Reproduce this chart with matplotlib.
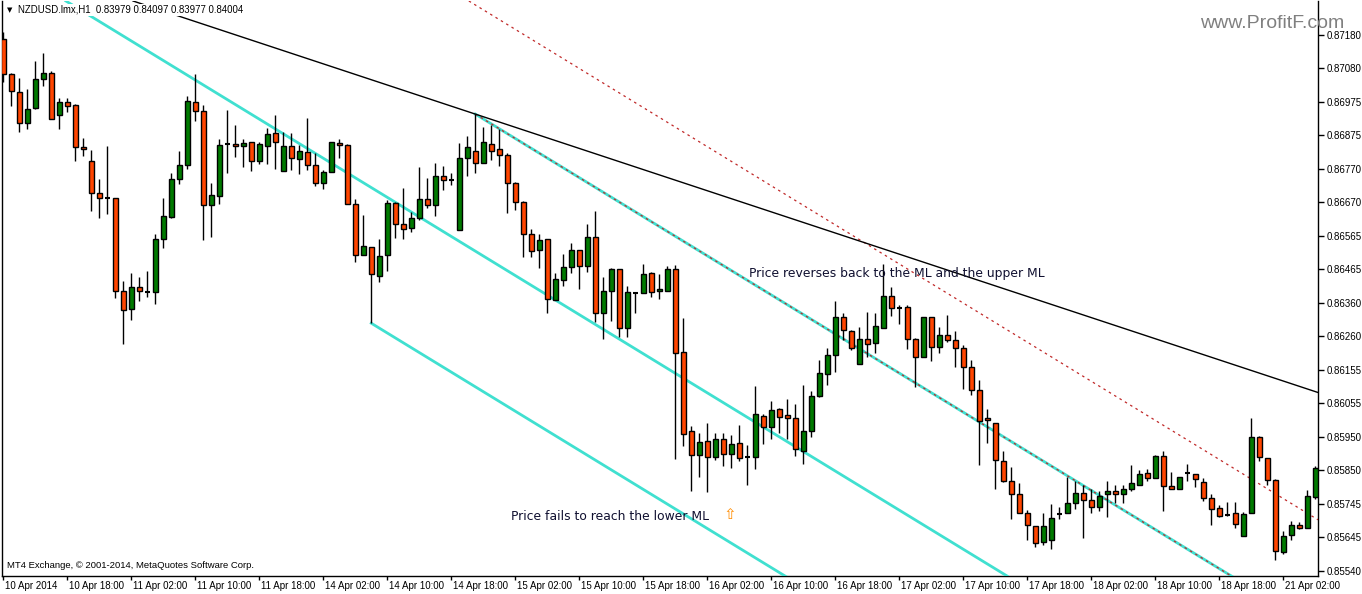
import matplotlib
matplotlib.use("Agg")
import matplotlib.pyplot as plt
import matplotlib.transforms as mtransforms
import numpy as np

# Datos OHLC (NZDUSD H1)
opens = [0.87168, 0.87060, 0.87005, 0.86910, 0.86956, 0.87044, 0.87063, 0.86935, 0.86974, 0.86965,
         0.86836, 0.86794, 0.86696, 0.86682, 0.86680, 0.86397, 0.86341, 0.86408, 0.86395, 0.86393,
         0.86555, 0.86623, 0.86738, 0.86781, 0.86974, 0.86947, 0.86659, 0.86686, 0.86846, 0.86846,
         0.86839, 0.86852, 0.86794, 0.86839, 0.86879, 0.86763, 0.86839, 0.86800, 0.86822, 0.86781,
         0.86726, 0.86760, 0.86850, 0.86842, 0.86662, 0.86507, 0.86530, 0.86443, 0.86507, 0.86665,
         0.86603, 0.86589, 0.86621, 0.86677, 0.86659, 0.86748, 0.86736, 0.86582, 0.86803, 0.86824,
         0.86787, 0.86846, 0.86830, 0.86812, 0.86726, 0.86668, 0.86570, 0.86521, 0.86555, 0.86369,
         0.86429, 0.86469, 0.86521, 0.86474, 0.86561, 0.86328, 0.86398, 0.86463, 0.86283, 0.86391,
         0.86390, 0.86451, 0.86396, 0.86398, 0.86463, 0.86211, 0.85969, 0.85894, 0.85937, 0.85888,
         0.85945, 0.85898, 0.85931, 0.85890, 0.85890, 0.86014, 0.85981, 0.86036, 0.86017, 0.86007,
         0.85908, 0.85968, 0.86075, 0.86142, 0.86200, 0.86318, 0.86274, 0.86172, 0.86249, 0.86237,
         0.86284, 0.86380, 0.86345, 0.86347, 0.86250, 0.86196, 0.86316, 0.86224, 0.86261, 0.86247,
         0.86221, 0.86163, 0.86093, 0.86007, 0.85992, 0.85876, 0.85814, 0.85775, 0.85716, 0.85677,
         0.85628, 0.85634, 0.85714, 0.85716, 0.85747, 0.85779, 0.85757, 0.85737, 0.85775, 0.85784,
         0.85775, 0.85790, 0.85802, 0.85839, 0.85824, 0.85891, 0.85799, 0.85792, 0.85841, 0.85836,
         0.85811, 0.85762, 0.85732, 0.85711, 0.85716, 0.85647, 0.85716, 0.85949, 0.85885, 0.85818,
         0.85598, 0.85650, 0.85680, 0.85671, 0.85767]
highs = [0.87190, 0.87063, 0.87048, 0.87015, 0.87100, 0.87124, 0.87070, 0.86986, 0.86986, 0.86969,
         0.86864, 0.86828, 0.86739, 0.86840, 0.86680, 0.86427, 0.86451, 0.86439, 0.86458, 0.86570,
         0.86681, 0.86759, 0.86825, 0.86993, 0.87061, 0.86966, 0.86727, 0.86862, 0.86950, 0.86905,
         0.86862, 0.86852, 0.86854, 0.86896, 0.86935, 0.86884, 0.86879, 0.86843, 0.86925, 0.86820,
         0.86766, 0.86852, 0.86862, 0.86846, 0.86678, 0.86629, 0.86530, 0.86556, 0.86675, 0.86670,
         0.86711, 0.86639, 0.86775, 0.86742, 0.86787, 0.86779, 0.86759, 0.86849, 0.86871, 0.86938,
         0.86899, 0.86904, 0.86891, 0.86818, 0.86731, 0.86673, 0.86585, 0.86570, 0.86555, 0.86453,
         0.86510, 0.86543, 0.86521, 0.86601, 0.86641, 0.86440, 0.86466, 0.86463, 0.86412, 0.86395,
         0.86478, 0.86454, 0.86448, 0.86474, 0.86476, 0.86313, 0.85985, 0.85961, 0.85994, 0.85961,
         0.85961, 0.85955, 0.85987, 0.85924, 0.86106, 0.86019, 0.86060, 0.86040, 0.86066, 0.86051,
         0.86108, 0.86091, 0.86186, 0.86221, 0.86366, 0.86330, 0.86277, 0.86286, 0.86332, 0.86330,
         0.86479, 0.86410, 0.86354, 0.86354, 0.86253, 0.86316, 0.86316, 0.86286, 0.86323, 0.86274,
         0.86231, 0.86185, 0.86125, 0.86035, 0.85992, 0.85906, 0.85857, 0.85808, 0.85727, 0.85677,
         0.85716, 0.85745, 0.85735, 0.85827, 0.85814, 0.85802, 0.85790, 0.85786, 0.85814, 0.85804,
         0.85804, 0.85863, 0.85849, 0.85851, 0.85894, 0.85906, 0.85842, 0.85827, 0.85866, 0.85836,
         0.85824, 0.85775, 0.85742, 0.85752, 0.85752, 0.85721, 0.86008, 0.85953, 0.85885, 0.85822,
         0.85662, 0.85692, 0.85690, 0.85789, 0.85861]
lows = [0.87036, 0.86964, 0.86882, 0.86891, 0.86953, 0.87025, 0.86922, 0.86891, 0.86945, 0.86795,
        0.86811, 0.86642, 0.86619, 0.86633, 0.86374, 0.86234, 0.86307, 0.86367, 0.86379, 0.86358,
        0.86529, 0.86621, 0.86725, 0.86771, 0.86917, 0.86553, 0.86563, 0.86664, 0.86759, 0.86807,
        0.86777, 0.86765, 0.86784, 0.86784, 0.86771, 0.86763, 0.86768, 0.86754, 0.86766, 0.86719,
        0.86708, 0.86760, 0.86803, 0.86662, 0.86486, 0.86507, 0.86298, 0.86423, 0.86459, 0.86558,
        0.86555, 0.86578, 0.86613, 0.86650, 0.86627, 0.86706, 0.86721, 0.86582, 0.86749, 0.86759,
        0.86787, 0.86798, 0.86780, 0.86634, 0.86645, 0.86502, 0.86502, 0.86468, 0.86330, 0.86369,
        0.86413, 0.86451, 0.86402, 0.86456, 0.86301, 0.86249, 0.86306, 0.86255, 0.86257, 0.86330,
        0.86390, 0.86379, 0.86373, 0.86398, 0.85884, 0.85923, 0.85784, 0.85828, 0.85781, 0.85880,
        0.85862, 0.85856, 0.85876, 0.85802, 0.85851, 0.85928, 0.85945, 0.85961, 0.85944, 0.85893,
        0.85866, 0.85951, 0.86073, 0.86108, 0.86148, 0.86247, 0.86216, 0.86172, 0.86196, 0.86206,
        0.86284, 0.86321, 0.86295, 0.86219, 0.86102, 0.86196, 0.86182, 0.86206, 0.86242, 0.86163,
        0.86098, 0.86078, 0.85863, 0.85931, 0.85790, 0.85811, 0.85698, 0.85716, 0.85635, 0.85612,
        0.85619, 0.85606, 0.85698, 0.85716, 0.85729, 0.85640, 0.85718, 0.85724, 0.85706, 0.85747,
        0.85747, 0.85784, 0.85802, 0.85816, 0.85824, 0.85724, 0.85790, 0.85792, 0.85814, 0.85796,
        0.85755, 0.85682, 0.85706, 0.85709, 0.85672, 0.85647, 0.85716, 0.85876, 0.85804, 0.85574,
        0.85593, 0.85635, 0.85667, 0.85671, 0.85759]
closes = [0.87060, 0.87009, 0.86910, 0.86953, 0.87044, 0.87063, 0.86922, 0.86974, 0.86963, 0.86836,
          0.86830, 0.86696, 0.86680, 0.86682, 0.86397, 0.86338, 0.86408, 0.86398, 0.86395, 0.86555,
          0.86625, 0.86738, 0.86781, 0.86977, 0.86947, 0.86659, 0.86690, 0.86842, 0.86846, 0.86839,
          0.86849, 0.86794, 0.86846, 0.86877, 0.86852, 0.86839, 0.86803, 0.86824, 0.86781, 0.86726,
          0.86761, 0.86852, 0.86842, 0.86662, 0.86507, 0.86533, 0.86449, 0.86504, 0.86665, 0.86601,
          0.86586, 0.86621, 0.86677, 0.86659, 0.86748, 0.86737, 0.86736, 0.86803, 0.86836, 0.86787,
          0.86852, 0.86826, 0.86812, 0.86728, 0.86668, 0.86570, 0.86518, 0.86552, 0.86373, 0.86432,
          0.86469, 0.86521, 0.86474, 0.86561, 0.86328, 0.86398, 0.86463, 0.86283, 0.86393, 0.86391,
          0.86448, 0.86393, 0.86402, 0.86463, 0.86206, 0.85959, 0.85894, 0.85935, 0.85888, 0.85945,
          0.85898, 0.85928, 0.85885, 0.85890, 0.86019, 0.85980, 0.86032, 0.86012, 0.86007, 0.85913,
          0.85968, 0.86075, 0.86145, 0.86200, 0.86316, 0.86277, 0.86221, 0.86249, 0.86234, 0.86289,
          0.86380, 0.86344, 0.86345, 0.86249, 0.86196, 0.86316, 0.86224, 0.86261, 0.86247, 0.86221,
          0.86163, 0.86093, 0.85998, 0.86001, 0.85879, 0.85814, 0.85775, 0.85718, 0.85680, 0.85625,
          0.85677, 0.85701, 0.85714, 0.85747, 0.85779, 0.85757, 0.85737, 0.85770, 0.85784, 0.85775,
          0.85790, 0.85808, 0.85836, 0.85824, 0.85891, 0.85799, 0.85792, 0.85827, 0.85841, 0.85820,
          0.85762, 0.85729, 0.85709, 0.85711, 0.85684, 0.85713, 0.85951, 0.85888, 0.85818, 0.85600,
          0.85648, 0.85680, 0.85671, 0.85769, 0.85854]

# Etiquetas de los ejes (cada 8 velas)
x_labels = ["10 Apr 2014", "10 Apr 18:00", "11 Apr 02:00", "11 Apr 10:00", "11 Apr 18:00",
            "14 Apr 02:00", "14 Apr 10:00", "14 Apr 18:00", "15 Apr 02:00", "15 Apr 10:00",
            "15 Apr 18:00", "16 Apr 02:00", "16 Apr 10:00", "16 Apr 18:00", "17 Apr 02:00",
            "17 Apr 10:00", "17 Apr 18:00", "18 Apr 02:00", "18 Apr 10:00", "18 Apr 18:00",
            "21 Apr 02:00"]
y_labels = ["0.87180", "0.87080", "0.86975", "0.86875", "0.86770", "0.86670", "0.86565",
            "0.86465", "0.86360", "0.86260", "0.86155", "0.86055", "0.85950", "0.85850",
            "0.85745", "0.85645", "0.85540"]
y_top, y_step = 0.87180, 0.001025

# Objetos dibujados (tridente de Andrews + línea de tendencia)
fork_slope = -1.4956e-4           # precio por vela
ml_start = (59, 0.86938)          # ML (máximo de la vela 59)
lower_start = (46, 0.86298)       # ML inferior (mínimo de la vela 46)
upper_anchor = (12.71, 0.87211)   # línea cian superior
upper_ml_anchor = (78.79, 0.86976)  # ML superior (punteada roja)
trend_p1 = (59, 0.86938)
trend_p2 = (164.59, 0.86084)

W, H = 1362, 594
fig = plt.figure(figsize=(W / 100, H / 100), dpi=100)
ax = fig.add_axes([2 / W, 18 / H, 1316 / W, 575 / H])
ax.set_xlim(-0.16, 164.34)
ax.set_ylim(0.855245, 0.87284)

verde = "#007a00"
rojo = "#ff4500"
cian = "#40e0d0"

n = len(opens)
x = np.arange(n)
o = np.array(opens); h = np.array(highs); l = np.array(lows); c = np.array(closes)

# Mechas
ax.vlines(x, l, h, color="black", linewidth=1, zorder=4)
# Cuerpos
for i in range(n):
    if c[i] > o[i]:
        ax.bar(x[i], c[i] - o[i], bottom=o[i], width=0.62, color=verde,
               edgecolor="black", linewidth=1, zorder=5)
    elif c[i] < o[i]:
        ax.bar(x[i], o[i] - c[i], bottom=c[i], width=0.62, color=rojo,
               edgecolor="black", linewidth=1, zorder=5)
    else:
        ax.hlines(o[i], x[i] - 0.31, x[i] + 0.31, color="black", linewidth=1.5, zorder=5)

# Líneas cian del tridente
ax.axline(upper_anchor, slope=fork_slope, color=cian, linewidth=2, zorder=3)
x_far = 220
for x0, p0 in [ml_start, lower_start]:
    ax.plot([x0, x_far], [p0, p0 + fork_slope * (x_far - x0)], color=cian, linewidth=2, zorder=3)
# Punteado rojo sobre la ML y la ML superior
ax.plot([ml_start[0], x_far], [ml_start[1], ml_start[1] + fork_slope * (x_far - ml_start[0])],
        color="#c02828", linewidth=0.9, linestyle=(0, (2, 3)), zorder=3.5)
ax.axline(upper_ml_anchor, slope=fork_slope, color="#c02828", linewidth=0.9,
          linestyle=(0, (2, 3)), zorder=3.5)
# Línea de tendencia negra
ax.axline(trend_p1, trend_p2, color="black", linewidth=1, zorder=6)

# Anotaciones
ax.text(93.2, 0.86449, "Price reverses back to the ML and the upper ML", fontsize=8.9,
        color="#101030", va="center", ha="left", zorder=7)
ax.text(63.46, 0.85708, "Price fails to reach the lower ML", fontsize=8.9,
        color="#101030", va="center", ha="left", zorder=7)
ax.text(90.84, 0.85712, "\u21e7", fontsize=11, color="#ff8c00", va="center", ha="center", zorder=7)

# Ejes estilo MT4
ax.spines["top"].set_visible(False)
for s in ["left", "right", "bottom"]:
    ax.spines[s].set_linewidth(1)
ax.set_xticks(np.arange(0, n, 8)[:len(x_labels)])
ax.set_xticklabels(x_labels, fontsize=7, family="Liberation Sans")
ax.tick_params(axis="x", direction="out", length=3, width=1, pad=0.5)
off = mtransforms.ScaledTranslation(2 / 100, 0, fig.dpi_scale_trans)
for lab in ax.get_xticklabels():
    lab.set_horizontalalignment("left")
    lab.set_transform(lab.get_transform() + off)

ax.yaxis.tick_right()
ax.set_yticks([y_top - k * y_step for k in range(len(y_labels))])
ax.set_yticklabels(y_labels, fontsize=7, family="Liberation Sans")
ax.tick_params(axis="y", direction="out", length=4, width=1, pad=2)

# Textos de la ventana
fig.text(7 / W, 1 - 10 / H, "\u25bc", fontsize=5, va="center", ha="left", color="black")
fig.text(18 / W, 1 - 10 / H, "NZDUSD.lmx,H1  0.83979 0.84097 0.83977 0.84004",
         fontsize=6.9, family="Liberation Sans", va="center", ha="left", color="black",
         bbox=dict(facecolor="white", edgecolor="none", pad=0.5), zorder=5)
fig.text(7 / W, 1 - 566 / H, "MT4 Exchange, \u00a9 2001-2014, MetaQuotes Software Corp.",
         fontsize=6.8, family="Liberation Sans", va="center", ha="left", color="black")
fig.text(1200 / W, 1 - 24 / H, "www.ProfitF.com", fontsize=14, family="Liberation Sans",
         va="center", ha="left", color="#808080", zorder=10)

fig.savefig("out.png", dpi=100, facecolor="white")
